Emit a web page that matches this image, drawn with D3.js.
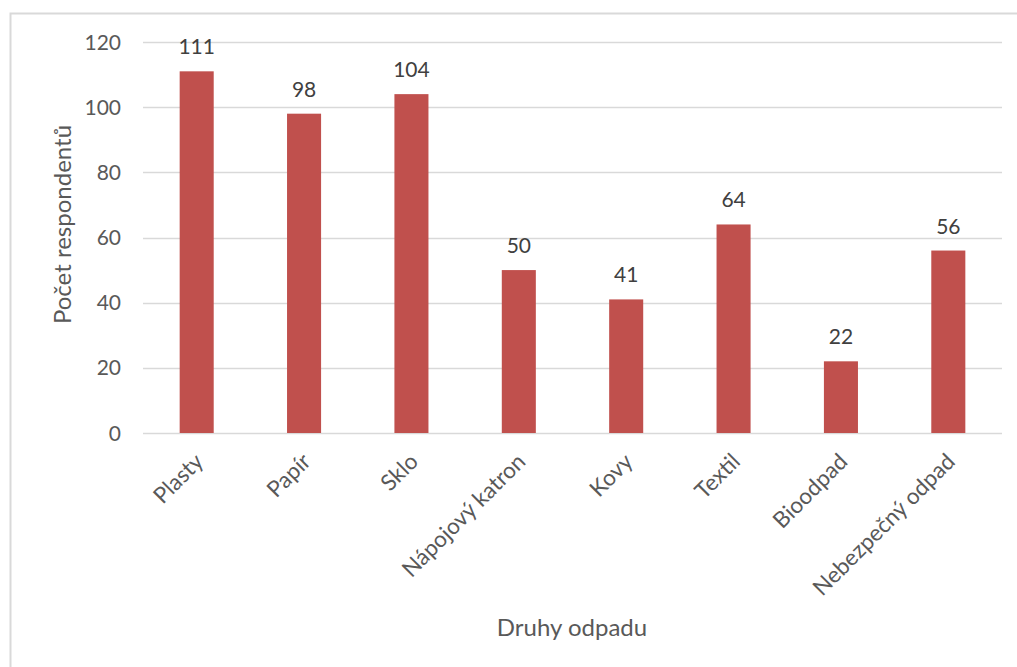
<!DOCTYPE html>
<html>
<head>
<meta charset="utf-8">
<script src="https://cdn.jsdelivr.net/npm/d3@7/dist/d3.min.js"></script>
<style>
  html, body { margin: 0; padding: 0; background: #fff; }
  svg { display: block; font-family: Lato, "Open Sans", sans-serif; }
</style>
</head>
<body>
<svg id="chart" width="1017" height="667"></svg>
<script>
// Počet respondentů podle druhu odpadu
const categories = ["Plasty", "Papír", "Sklo", "Nápojový katron", "Kovy", "Textil", "Bioodpad", "Nebezpečný odpad"];
const values = [111, 98, 104, 50, 41, 64, 22, 56];
const yTicks = [0, 20, 40, 60, 80, 100, 120];
const yTitle = "Počet respondentů";
const xTitle = "Druhy odpadu";

const svg = d3.select("#chart");
const W = 1017, H = 667;
const plot = { left: 143, right: 1002, top: 42, bottom: 433 };

// chart frame
svg.append("rect")
  .attr("x", 10.5).attr("y", 13.5)
  .attr("width", W + 10).attr("height", H + 10)
  .attr("fill", "none").attr("stroke", "#d9d9d9").attr("stroke-width", 2);

const x = d3.scaleBand().domain(categories).range([plot.left, plot.right]).padding(0);
const y = d3.scaleLinear().domain([0, 120]).range([plot.bottom, plot.top]);
const barW = x.bandwidth() * 0.317;

// gridlines
svg.append("g").selectAll("line").data(yTicks).join("line")
  .attr("x1", plot.left).attr("x2", plot.right)
  .attr("y1", d => Math.round(y(d)) + 0.5).attr("y2", d => Math.round(y(d)) + 0.5)
  .attr("stroke", "#d9d9d9").attr("stroke-width", 1.3);

// y axis tick labels
const yAxis = d3.axisLeft(y).tickValues(yTicks).tickSize(0).tickPadding(0);
const gy = svg.append("g").attr("transform", `translate(${plot.left - 22},0)`).call(yAxis);
gy.select(".domain").remove();
gy.selectAll("text")
  .attr("font-family", "Lato, sans-serif")
  .attr("font-size", 21).attr("fill", "#595959").attr("dy", "0.34em");

// bars
svg.append("g").selectAll("rect").data(values).join("rect")
  .attr("x", (d, i) => x(categories[i]) + (x.bandwidth() - barW) / 2)
  .attr("width", barW)
  .attr("y", d => y(d))
  .attr("height", d => y(0) - y(d))
  .attr("fill", "#c0504d");

// value labels
svg.append("g").selectAll("text").data(values).join("text")
  .attr("x", (d, i) => x(categories[i]) + x.bandwidth() / 2)
  .attr("y", d => y(d) - 17)
  .attr("text-anchor", "middle")
  .attr("font-size", 21).attr("fill", "#404040")
  .text(d => d);

// x axis category labels, rotated
const xAxis = d3.axisBottom(x).tickSize(0).tickPadding(0);
const gx = svg.append("g").attr("transform", `translate(0,${plot.bottom})`).call(xAxis);
gx.select(".domain").remove();
gx.selectAll(".tick text")
  .attr("font-family", "Lato, sans-serif")
  .attr("font-size", 22.5).attr("fill", "#595959")
  .attr("text-anchor", "end")
  .attr("dy", null).attr("y", 0)
  .attr("transform", "translate(8,30) rotate(-45)");

// axis titles
svg.append("text")
  .attr("transform", `translate(71,${(plot.top + plot.bottom) / 2 - 13}) rotate(-90)`)
  .attr("text-anchor", "middle")
  .attr("font-size", 24).attr("fill", "#595959")
  .text(yTitle);

svg.append("text")
  .attr("x", 572).attr("y", 636)
  .attr("text-anchor", "middle")
  .attr("font-size", 24).attr("fill", "#595959")
  .text(xTitle);
</script>
</body>
</html>
